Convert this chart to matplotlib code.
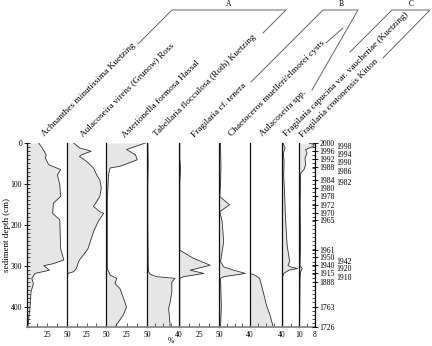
import matplotlib
matplotlib.use('Agg')
import matplotlib.pyplot as plt
from matplotlib.lines import Line2D

plt.rcParams['font.family'] = ['Liberation Serif', 'DejaVu Serif']

# ---------------- data ----------------
taxa = ['Achnanthes minutissima Kuetzing',
        'Aulacoseira virens (Grunow) Ross',
        'Asterionella formosa Hassal',
        'Tabellaria flocculosa (Roth) Kuetzing',
        'Fragilaria cf. tenera',
        'Chaetoceros muelleri/elmorei cysts',
        'Aulacoseira spp.',
        'Fragilaria capucina var. vaucheriae (Kuetzing)',
        'Fragilaria crotonensis Kitton']
groups = ['A', 'B', 'C']

d1 = [0, 12, 29, 37, 53, 65, 78, 102, 131, 147, 172, 188, 258, 286, 295, 300, 311, 319, 331, 344, 364, 397, 450]
p1 = [14.6, 19, 24, 23, 27, 42, 38, 41, 42, 33, 32, 41, 42, 46, 33, 21, 28, 10, 6, 8, 5, 4, 1]

d2 = [0, 12, 20, 29, 33, 45, 61, 78, 90, 110, 131, 155, 168, 172, 192, 217, 258, 274, 286, 295, 307, 315, 319, 335, 450]
p2 = [8.6, 16, 31, 18.5, 16, 25, 34, 38, 42, 44, 42, 34, 42, 47, 40, 34, 27, 21, 16, 14, 12, 8, 1, 0.5, 0.5]

d3 = [0, 16, 29, 41, 57, 61, 78, 143, 225, 307, 323, 331, 344, 356, 389, 401, 421, 438, 450]
p3 = [48, 25, 36, 38, 17, 5, 3, 1.6, 1.6, 1.6, 5, 13, 11, 17, 23, 25, 21, 15, 11]

d4 = [0, 50, 100, 200, 300, 315, 321, 327, 331, 340, 364, 389, 405, 425, 450]
p4 = [1, 1.5, 1, 1, 1.5, 2, 4, 12, 35, 31, 31, 29, 27, 28, 29]

d5 = [0, 40, 60, 100, 150, 200, 262, 282, 299, 311, 319, 327, 331, 380, 450]
p5 = [1, 1, 2, 1, 1, 1, 1, 18, 39, 14, 31, 5.5, 1, 1, 1]

d6 = [0, 60, 100, 131, 151, 168, 192, 241, 290, 303, 311, 319, 327, 331, 400, 450]
p6 = [2, 2.5, 2, 1, 13.6, 1, 4, 6, 2, 6, 19, 34, 6, 2, 3, 2]

d7 = [0, 319, 323, 331, 364, 397, 421, 450]
p7 = [0.3, 0.3, 6, 12, 16.5, 20.6, 25, 29]

d8 = [0, 12, 25, 45, 80, 120, 180, 250, 290, 299, 303, 307, 311, 319, 327, 450]
p8 = [0.6, 1.8, 0.8, 1.2, 1.0, 1.5, 2.0, 3.0, 4.5, 3.5, 5, 9, 4, 1, 0.4, 0.4]

d9 = [0, 4, 8, 16, 25, 37, 53, 65, 74, 150, 250, 300, 307, 315, 330, 450]
p9 = [5, 7.5, 7.2, 3.3, 4, 3, 3.3, 2.5, 0.8, 0.6, 0.8, 0.5, 1.6, 0.8, 0.5, 0.3]

depths = [d1, d2, d3, d4, d5, d6, d7, d8, d9]
values = [p1, p2, p3, p4, p5, p6, p7, p8, p9]

xmax = [50, 50, 50, 40, 50, 40, 40, 10, 8]
xtick_major = [[25, 50], [25, 50], [25, 50], [40], [25, 50], [40], [40], [10], [8]]
xtick_minor = [[12.5, 37.5], [12.5, 37.5], [12.5, 37.5], [10, 20, 30], [12.5, 37.5],
               [10, 20, 30], [10, 20, 30], [5], [4]]

depth_ticks = [0, 100, 200, 300, 400]

age_col1 = ['2000', '1996', '1992', '1988', '1984', '1980', '1978', '1972', '1970', '1965',
            '1961', '1950', '1940', '1915', '1888', '1763', '1726']
age_col1_depth = [0, 19, 39, 59, 90, 110, 130, 151, 170, 189, 262, 280, 299, 318, 340, 401, 450]
age_col2 = ['1998', '1994', '1990', '1986', '1982', '1942', '1920', '1910']
age_col2_depth = [11, 30, 50, 71, 97, 290, 309, 330]

# ---------------- layout ----------------
W, H = 432, 346
edges = [27, 67, 106, 147, 179, 219, 250, 282, 299, 315]
top_px, bot_px = 143, 327
label_start = [(45, 137), (83, 137), (125, 138), (157, 137), (195, 138),
               (232, 137), (263, 137), (287, 137), (303, 138)]

fig = plt.figure(figsize=(4.32, 3.46), dpi=100)


def fx(x):
    return x / W


def fy(y):
    return 1 - y / H


FILL = '#e6e6e6'
axes = []
for i in range(9):
    x0, x1 = edges[i], edges[i + 1]
    ax = fig.add_axes([fx(x0), fy(bot_px), (x1 - x0) / W, (bot_px - top_px) / H])
    ax.set_xlim(0, xmax[i])
    ax.set_ylim(450, 0)
    ax.fill_betweenx(depths[i], 0, values[i], color=FILL, lw=0)
    ax.plot(values[i], depths[i], color='#333333', lw=0.6)
    ax.patch.set_alpha(0)
    for s in ['top', 'right']:
        ax.spines[s].set_visible(False)
    ax.spines['left'].set_linewidth(0.9)
    ax.spines['left'].set_color('#111111')
    ax.spines['bottom'].set_color('#8a8a8a')
    ax.spines['bottom'].set_linewidth(1.3)
    ax.set_xticks(xtick_major[i])
    ax.set_xticklabels([str(v) for v in xtick_major[i]])
    ax.set_xticks(xtick_minor[i], minor=True)
    ax.tick_params(axis='x', which='both', direction='in', length=3, width=0.6,
                   labelsize=5.5, pad=3, color='#444444')
    if i > 0:
        ax.set_yticks([])
    axes.append(ax)

# depth axis
ax0 = axes[0]
ax0.set_yticks(depth_ticks)
ax0.set_yticklabels([str(v) for v in depth_ticks])
ax0.set_yticks(range(0, 451, 10), minor=True)
ax0.tick_params(axis='y', which='major', direction='inout', length=4, width=0.6,
                labelsize=5.5, pad=1.5)
ax0.tick_params(axis='y', which='minor', direction='in', length=2, width=0.5)
fig.text(fx(7), fy(235), 'sediment depth (cm)', rotation=90, va='center', ha='center',
         fontsize=6.5)

# age axis
axr = axes[8].twinx()
axr.set_ylim(450, 0)
for s in ['top', 'left', 'bottom']:
    axr.spines[s].set_visible(False)
axr.spines['right'].set_linewidth(0.9)
axr.set_yticks(age_col1_depth)
axr.set_yticklabels(age_col1)
axr.set_yticks(range(0, 451, 10), minor=True)
axr.tick_params(axis='y', which='major', direction='inout', length=4, width=0.6,
                labelsize=5.5, pad=1)
axr.tick_params(axis='y', which='minor', direction='in', length=2, width=0.5)
tr = axr.get_yaxis_transform()
for lab, dd in zip(age_col2, age_col2_depth):
    axr.text((336 - edges[8]) / (edges[9] - edges[8]), dd, lab, transform=tr,
             fontsize=5.5, va='center', ha='left')

fig.text(fx(171), fy(341), '%', ha='center', va='center', fontsize=5.5)

# taxon labels
for name, (sx, sy) in zip(taxa, label_start):
    fig.text(fx(sx), fy(sy), name, rotation=45, rotation_mode='anchor',
             ha='left', va='baseline', fontsize=6.7)

# group brackets
brackets = [
    [(138, 44), (172, 10), (286, 10), (263, 33)],
    [(251, 82), (323, 10), (358, 10), (312, 90)],
    [(350, 52), (392, 10), (430, 10), (383, 58)],
]
for pts in brackets:
    xs = [fx(p[0]) for p in pts]
    ys = [fy(p[1]) for p in pts]
    fig.add_artist(Line2D(xs, ys, color='#666666', lw=0.7))
fig.add_artist(Line2D([fx(326), fx(343)], [fy(43), fy(28)], color='#666666', lw=0.7))

for g, gx in zip(groups, [229, 341, 411]):
    fig.text(fx(gx), fy(4), g, ha='center', va='center', fontsize=5.5)

fig.savefig('out.png', dpi=100)
